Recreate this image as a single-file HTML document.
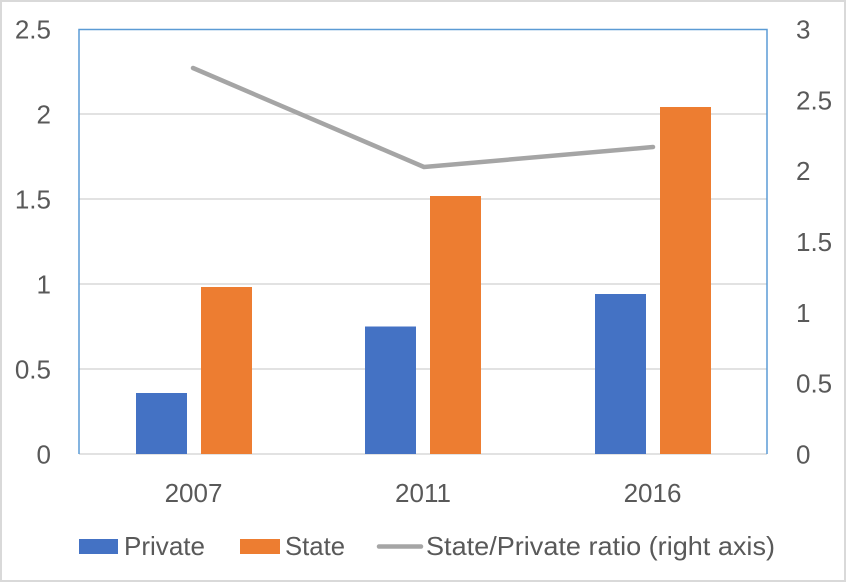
<!DOCTYPE html>
<html>
<head>
<meta charset="utf-8">
<style>
  html, body { margin: 0; padding: 0; background: #fff; }
  svg { display: block; }
  text { font-family: "Liberation Sans", Arial, sans-serif; fill: #595959; font-size: 26px; }
</style>
</head>
<body>
<svg width="847" height="584" viewBox="0 0 847 584" xmlns="http://www.w3.org/2000/svg">
  <rect x="0" y="0" width="847" height="584" fill="#fff"/>
  <rect x="1" y="1" width="844" height="580" fill="none" stroke="#d9d9d9" stroke-width="2"/>

  <!-- gridlines -->
  <g stroke="#d9d9d9" stroke-width="1.5">
    <line x1="79" y1="114" x2="767" y2="114"/>
    <line x1="79" y1="199" x2="767" y2="199"/>
    <line x1="79" y1="284" x2="767" y2="284"/>
    <line x1="79" y1="369" x2="767" y2="369"/>
    <line x1="79" y1="454" x2="767" y2="454"/>
  </g>

  <!-- plot border (blue) -->
  <polyline points="79,454 79,29.5 767,29.5 767,454" fill="none" stroke="#5b9bd5" stroke-width="1.5"/>

  <!-- bars -->
  <g>
    <rect x="136" y="393" width="51" height="61" fill="#4472c4"/>
    <rect x="201" y="287" width="51" height="167" fill="#ed7d31"/>
    <rect x="365" y="326.5" width="51" height="127.5" fill="#4472c4"/>
    <rect x="430" y="196" width="51" height="258" fill="#ed7d31"/>
    <rect x="595" y="294" width="51" height="160" fill="#4472c4"/>
    <rect x="660" y="107" width="51" height="347" fill="#ed7d31"/>
  </g>

  <!-- ratio line -->
  <polyline points="193,68 424,167 653,147" fill="none" stroke="#a5a5a5" stroke-width="4.5" stroke-linejoin="round" stroke-linecap="round"/>

  <!-- left axis labels -->
  <g text-anchor="end">
    <text x="51" y="38.5">2.5</text>
    <text x="51" y="123.5">2</text>
    <text x="51" y="208.5">1.5</text>
    <text x="51" y="293.5">1</text>
    <text x="51" y="378.5">0.5</text>
    <text x="51" y="463.5">0</text>
  </g>

  <!-- right axis labels -->
  <g text-anchor="start">
    <text x="796" y="38.5">3</text>
    <text x="796" y="109.3">2.5</text>
    <text x="796" y="180.2">2</text>
    <text x="796" y="251">1.5</text>
    <text x="796" y="321.8">1</text>
    <text x="796" y="392.7">0.5</text>
    <text x="796" y="463.5">0</text>
  </g>

  <!-- x labels -->
  <g text-anchor="middle">
    <text x="193.5" y="502">2007</text>
    <text x="423" y="502">2011</text>
    <text x="652.5" y="502">2016</text>
  </g>

  <!-- legend -->
  <rect x="79" y="539" width="39" height="15" fill="#4472c4"/>
  <text x="124" y="555" textLength="81" lengthAdjust="spacingAndGlyphs">Private</text>
  <rect x="240" y="539" width="40" height="15" fill="#ed7d31"/>
  <text x="285" y="555" textLength="60" lengthAdjust="spacingAndGlyphs">State</text>
  <line x1="379" y1="546.5" x2="421" y2="546.5" stroke="#a5a5a5" stroke-width="4.5" stroke-linecap="round"/>
  <text x="426" y="555" textLength="349" lengthAdjust="spacingAndGlyphs">State/Private ratio (right axis)</text>
</svg>
</body>
</html>
